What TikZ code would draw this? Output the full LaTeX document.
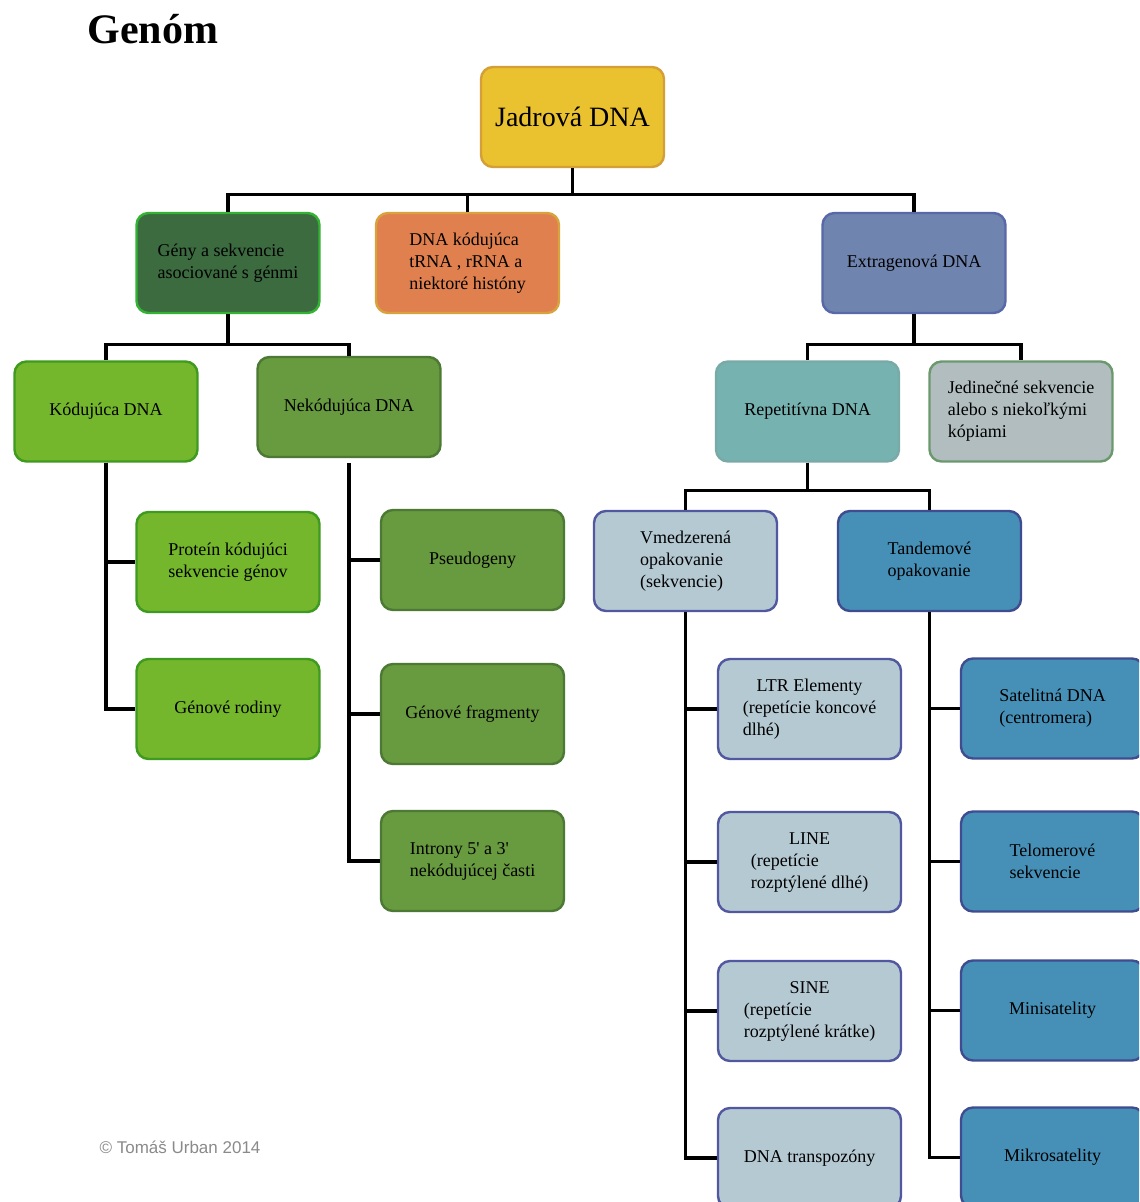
\documentclass[tikz,border=0pt]{standalone}
\usepackage{fontspec}
\setmainfont{Liberation Serif}
\setsansfont{Liberation Sans}
\usepackage{xcolor}
\definecolor{cTop}{HTML}{EAC12E}
\definecolor{cTopLine}{HTML}{D49F36}
\definecolor{cGene}{HTML}{3B6B3F}
\definecolor{cGeneLine}{HTML}{33B233}
\definecolor{cTrna}{HTML}{E1804F}
\definecolor{cTrnaLine}{HTML}{D8A23C}
\definecolor{cExtra}{HTML}{6F84AE}
\definecolor{cExtraLine}{HTML}{5868A8}
\definecolor{cCod}{HTML}{74B62C}
\definecolor{cCodLine}{HTML}{3F9A20}
\definecolor{cNonCod}{HTML}{689A3F}
\definecolor{cNonCodLine}{HTML}{4C7934}
\definecolor{cRep}{HTML}{76B2B0}
\definecolor{cRepLine}{HTML}{7AAAA8}
\definecolor{cUniq}{HTML}{B1BDBE}
\definecolor{cUniqLine}{HTML}{6B996D}
\definecolor{cSpaced}{HTML}{B5C9D3}
\definecolor{cSpacedLine}{HTML}{5158A0}
\definecolor{cTandem}{HTML}{4690B8}
\definecolor{cTandemLine}{HTML}{3F4C90}
\definecolor{cGray}{HTML}{8A8A8A}
\usepackage{tikz}
\usetikzlibrary{positioning}
\newcommand{\ctrhead}[2]{\begin{tabular}{@{}l@{}}\multicolumn{1}{@{}c@{}}{#1}\\#2\end{tabular}}
\tikzset{
  node-box/.style={draw,line width=1.2pt,rounded corners=6pt,
    minimum width=91.5pt,minimum height=50pt,align=left,
    font=\fontsize{9}{11}\selectfont},
  node-top/.style={draw=cTopLine,fill=cTop,font=\fontsize{14}{16}\selectfont},
  node-gene/.style={draw=cGeneLine,fill=cGene},
  node-trna/.style={draw=cTrnaLine,fill=cTrna},
  node-extra/.style={draw=cExtraLine,fill=cExtra},
  node-cod/.style={draw=cCodLine,fill=cCod},
  node-noncod/.style={draw=cNonCodLine,fill=cNonCod},
  node-rep/.style={draw=cRepLine,fill=cRep},
  node-uniq/.style={draw=cUniqLine,fill=cUniq},
  node-spaced/.style={draw=cSpacedLine,fill=cSpaced},
  node-tandem/.style={draw=cTandemLine,fill=cTandem},
  link/.style={line width=1.6pt,draw=black},
}

\begin{document}
\begin{tikzpicture}[x=0.5pt,y=-0.5pt]
  \clip (0,0) rectangle (1139,1202);
  \fill[white] (0,0) rectangle (1139,1202);
  \node[font=\fontsize{21}{24}\selectfont\bfseries] (title) at (153,29) {Genóm};
  % level 1-2
  \node[node-box,node-top] (jadr) at (572.5,117) {Jadrová DNA};
  \node[node-box,node-gene] (geny) at (228,263) {Gény a sekvencie\\asociované s génmi};
  \node[node-box,node-trna] (trna) at (467.5,263) {DNA kódujúca\\tRNA , rRNA a\\niektoré históny};
  \node[node-box,node-extra] (extra) at (914,263) {Extragenová DNA};
  % genes branch
  \node[node-box,node-cod] (kod) at (106,411.5) {Kódujúca DNA};
  \node[node-box,node-noncod] (nekod) at (349,407) {Nekódujúca DNA};
  \node[node-box,node-cod] (prot) at (228,562) {Proteín kódujúci\\sekvencie génov};
  \node[node-box,node-cod,below=22.3pt of prot] (rod) {Génové rodiny};
  \node[node-box,node-noncod] (pseudo) at (472.5,560) {Pseudogeny};
  \node[node-box,node-noncod,below=25.8pt of pseudo] (frag) {Génové fragmenty};
  \node[node-box,node-noncod,below=22.3pt of frag] (intr) {Introny 5\textquotesingle{} a 3\textquotesingle\\nekódujúcej časti};
  % extragenic branch
  \node[node-box,node-rep] (rep) at (807.5,411.5) {Repetitívna DNA};
  \node[node-box,node-uniq] (jed) at (1021,411.5) {Jedinečné sekvencie\\alebo s niekoľkými\\kópiami};
  \node[node-box,node-spaced] (vmed) at (685.5,561) {Vmedzerená\\opakovanie\\(sekvencie)};
  \node[node-box,node-tandem] (tand) at (929.5,561) {Tandemové\\opakovanie};
  \node[node-box,node-spaced] (ltr) at (809.5,709) {\ctrhead{LTR Elementy}{(repetície koncové\\dlhé)}};
  \node[node-box,node-spaced,below=25.3pt of ltr] (line) {\ctrhead{LINE}{(repetície\\rozptýlené dlhé)}};
  \node[node-box,node-spaced,below=23.3pt of line] (sine) {\ctrhead{SINE}{(repetície\\rozptýlené krátke)}};
  \node[node-box,node-spaced,below=22.3pt of sine] (transp) {DNA transpozóny};
  \node[node-box,node-tandem] (sat) at (1052.5,708.5) {Satelitná DNA\\(centromera)};
  \node[node-box,node-tandem,below=25.3pt of sat] (telo) {Telomerové\\sekvencie};
  \node[node-box,node-tandem,below=23.3pt of telo] (mini) {Minisatelity};
  \node[node-box,node-tandem,below=22.3pt of mini] (mikro) {Mikrosatelity};
  \node[font=\sffamily\fontsize{8.5}{10}\selectfont,text=cGray] (copy) at (180,1147) {© Tomáš Urban 2014};
  % connectors
  \foreach \c in {geny,trna,extra}
    \draw[link] (jadr.south) -- ++(0,26) -| (\c.north);
  \foreach \c in {kod,nekod}
    \draw[link] (geny.south) -- ++(0,30) -| (\c.north);
  \foreach \c in {rep,jed}
    \draw[link] (extra.south) -- ++(0,30) -| (\c.north);
  \foreach \c in {vmed,tand}
    \draw[link] (rep.south) -- ++(0,28) -| (\c.north);
  \foreach \c in {prot,rod}
    \draw[link] (kod.south) |- (\c.west);
  \foreach \c in {pseudo,frag,intr}
    \draw[link] (nekod.south) ++(0,5) |- (\c.west);
  \foreach \c in {ltr,line,sine,transp}
    \draw[link] (vmed.south) |- (\c.west);
  \foreach \c in {sat,telo,mini,mikro}
    \draw[link] (tand.south) |- (\c.west);
\end{tikzpicture}
\end{document}
